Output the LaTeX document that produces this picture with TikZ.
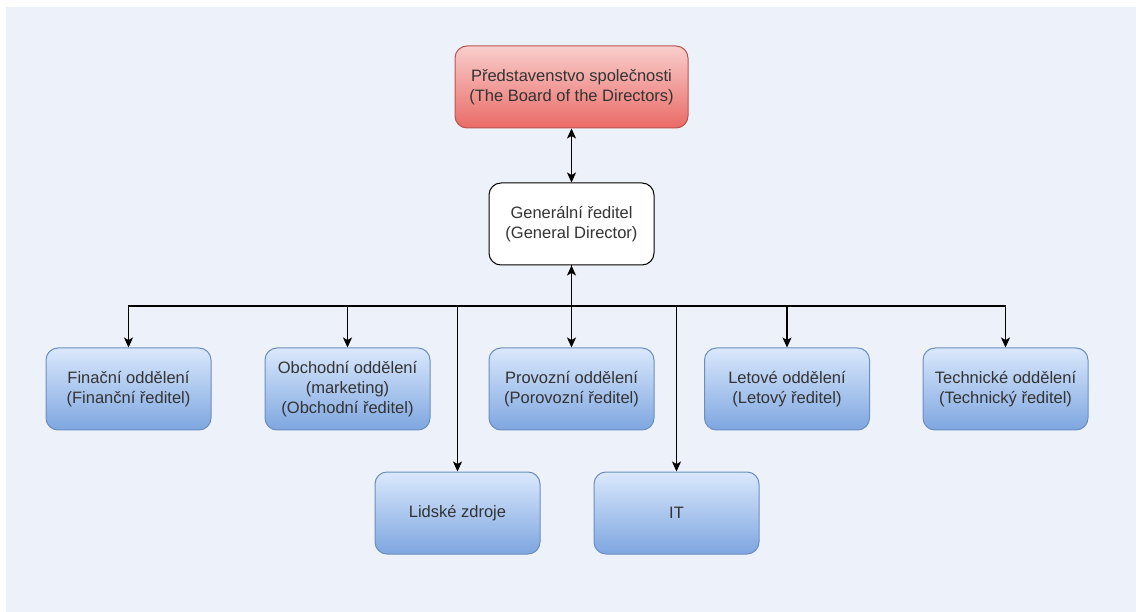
\documentclass[tikz,border=0pt]{standalone}
\usepackage{fontspec}
\setmainfont{Liberation Sans}
\usetikzlibrary{arrows.meta}

\definecolor{canvas}{HTML}{EDF2FA}
\definecolor{txt}{HTML}{333333}
\definecolor{redtop}{HTML}{F8CECC}
\definecolor{redbot}{HTML}{EA6B66}
\definecolor{redline}{HTML}{B85450}
\definecolor{bluetop}{HTML}{DAE8FC}
\definecolor{bluebot}{HTML}{7EA6E0}
\definecolor{blueline}{HTML}{6C8EBF}

\tikzset{
  box/.style={rounded corners=12pt, minimum width=165pt, minimum height=82pt,
    inner sep=0pt, align=center, text=txt, line width=1pt,
    font=\fontsize{16.5}{20}\selectfont},
  dept/.style={box, draw=blueline, top color=bluetop, bottom color=bluebot},
  board/.style={box, draw=redline, top color=redtop, bottom color=redbot, minimum width=233pt},
  chief/.style={box, draw=black, fill=white},
  link/.style={line width=1.3pt, black, arrows={-Stealth[length=10pt,width=9pt,inset=2.5pt]}},
  blink/.style={line width=1.3pt, black, arrows={Stealth[length=10pt,width=9pt,inset=2.5pt]-Stealth[length=10pt,width=9pt,inset=2.5pt]}}
}

\begin{document}
\begin{tikzpicture}[x=1pt, y=-1pt]
  % canvas
  \useasboundingbox (0,0) rectangle (1136,612);
  \fill[white] (0,0) rectangle (1136,612);
  \fill[canvas] (6,7) rectangle (1136,612);

  % top of the hierarchy
  \node[board] (brd) at (571.5,87) {Představenstvo společnosti\\(The Board of the Directors)};
  \node[chief] (gen) at (571.5,224) {Generální ředitel\\(General Director)};

  % departments, first row
  \node[dept] (fin)  at (128.5,389) {Finační oddělení\\(Finanční ředitel)};
  \node[dept] (obch) at (347.5,389) {Obchodní oddělení\\(marketing)\\(Obchodní ředitel)};
  \node[dept] (prov) at (571.5,389) {Provozní oddělení\\(Porovozní ředitel)};
  \node[dept] (let)  at (787,389)   {Letové oddělení\\(Letový ředitel)};
  \node[dept] (tech) at (1005.5,389) {Technické oddělení\\(Technický ředitel)};

  % departments, second row
  \node[dept] (hr) at (457.5,513) {Lidské zdroje};
  \node[dept] (it) at (676.5,513) {IT};

  % bus level
  \coordinate (bus) at (571.5,306);

  % connectors
  \draw[blink] (brd) -- (gen);
  \draw[blink] (gen) -- (prov);
  \draw[link] (gen.south) -- (bus) -| (fin.north);
  \draw[link] (gen.south) -- (bus) -| (obch.north);
  \draw[link] (gen.south) -- (bus) -| (hr.north);
  \draw[link] (gen.south) -- (bus) -| (it.north);
  \draw[link] (gen.south) -- (bus) -| (let.north);
  \draw[link] (gen.south) -- (bus) -| (tech.north);
\end{tikzpicture}
\end{document}
